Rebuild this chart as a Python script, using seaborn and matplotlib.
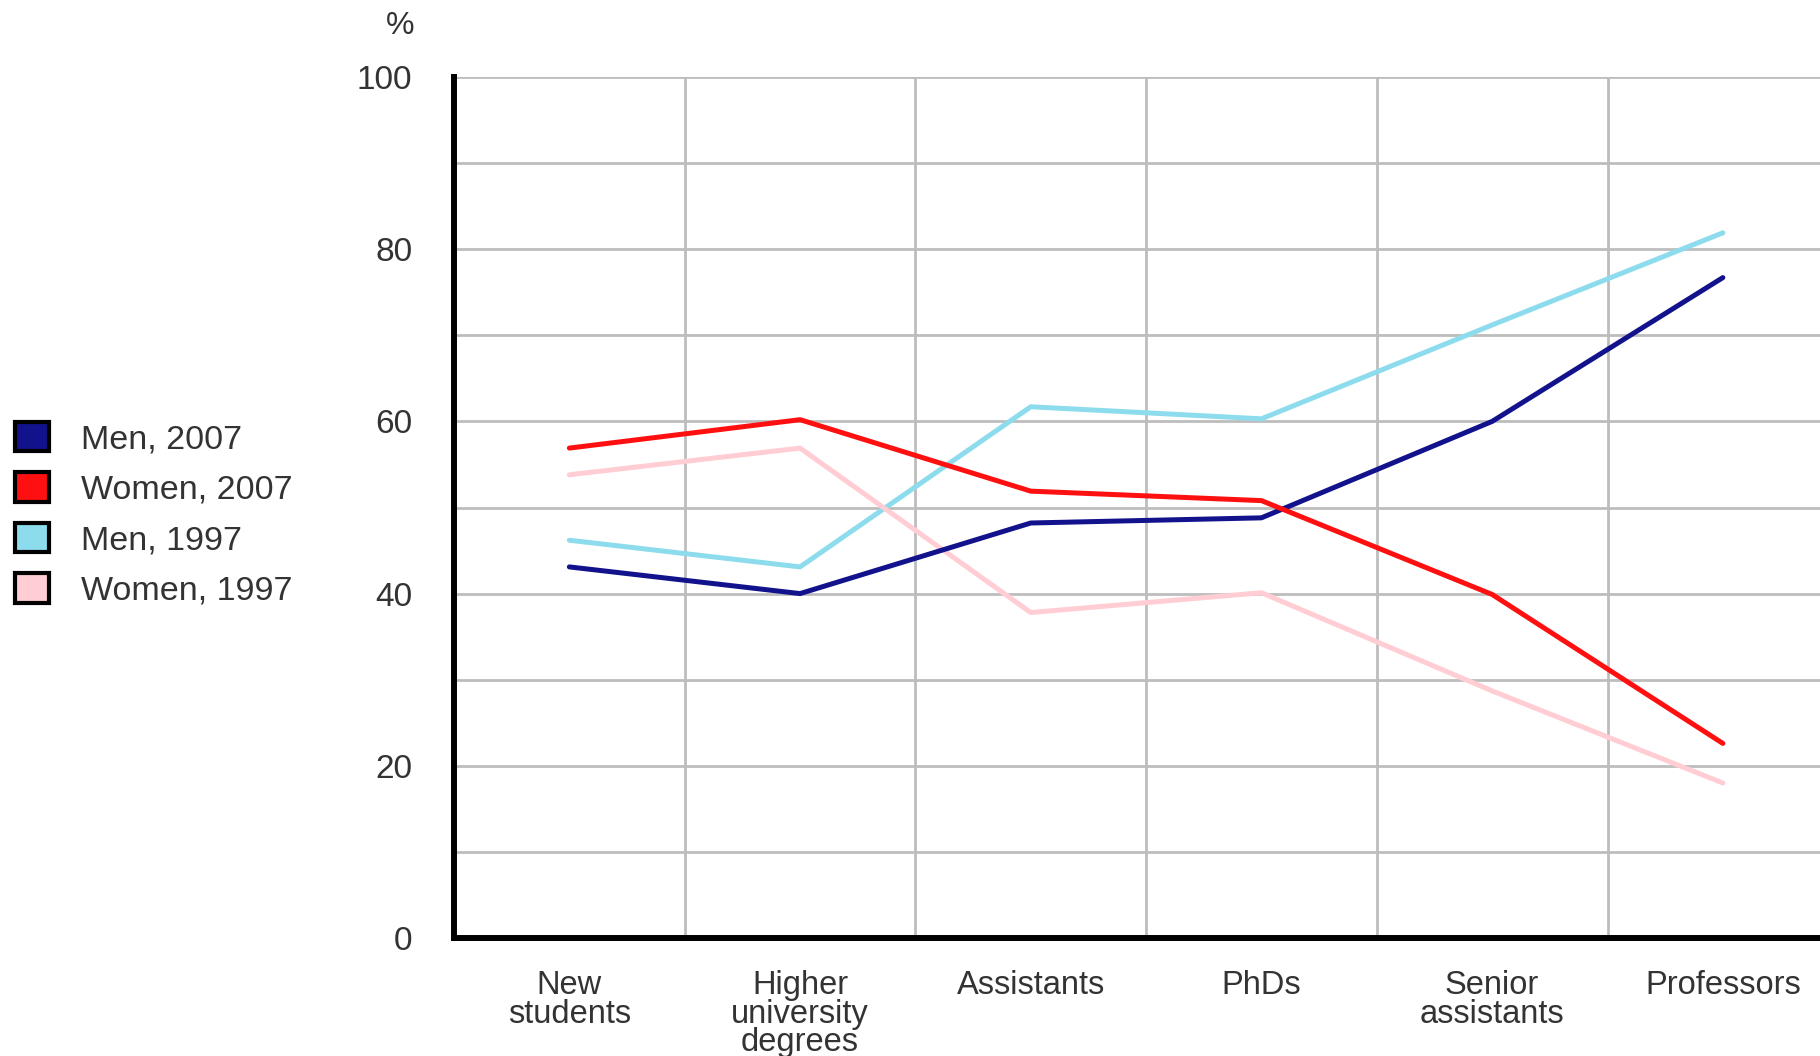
import numpy as np
import pandas as pd
import matplotlib
matplotlib.use('Agg')
import matplotlib.pyplot as plt
from matplotlib.patches import Patch
import seaborn as sns

# categories on the x axis
categories = ['New\nstudents', 'Higher\nuniversity\ndegrees', 'Assistants',
              'PhDs', 'Senior\nassistants', 'Professors']

# share in %
men_2007 = [43.1, 40.0, 48.2, 48.8, 60.0, 76.7]
women_2007 = [56.9, 60.2, 51.9, 50.8, 39.9, 22.6]
men_1997 = [46.2, 43.1, 61.7, 60.3, 71.2, 81.9]
women_1997 = [53.8, 56.9, 37.8, 40.1, 28.7, 18.0]

series_names = ['Men, 2007', 'Women, 2007', 'Men, 1997', 'Women, 1997']
colors = ['#12128c', '#ff1010', '#8ddcee', '#ffcdd3']

df = pd.DataFrame({'Category': categories,
                   'Men, 2007': men_2007,
                   'Women, 2007': women_2007,
                   'Men, 1997': men_1997,
                   'Women, 1997': women_1997})
long_df = df.melt(id_vars='Category', var_name='Series', value_name='Percent')
long_df['pos'] = long_df['Category'].map({c: i for i, c in enumerate(categories)})

sns.set_style('white')
plt.rcParams['font.family'] = ['Liberation Sans', 'DejaVu Sans']

fig = plt.figure(figsize=(18.2, 10.56), dpi=100)
ax = fig.add_axes([454/1820, 118/1056, 1 - 454/1820 + 0.01, 861/1056])

# light lines first so the 2007 lines sit on top
for name in ['Men, 1997', 'Women, 1997', 'Men, 2007', 'Women, 2007']:
    sub = long_df[long_df['Series'] == name]
    sns.lineplot(data=sub, x='pos', y='Percent', ax=ax, sort=False,
                 color=colors[series_names.index(name)], linewidth=3.6,
                 legend=False, zorder=3)

ax.set_xlim(-0.5, 5.45)
ax.set_ylim(0, 100)
ax.set_xticks(range(len(categories)))
ax.set_xticklabels(categories, fontsize=23.5, color='#333333', linespacing=0.9,
                   va='top')
ax.set_xticks(np.arange(0.5, 6, 1), minor=True)
ax.set_yticks(np.arange(0, 101, 20))
ax.set_yticklabels([str(v) for v in range(0, 101, 20)], fontsize=24, color='#333333')
ax.set_yticks(np.arange(10, 100, 20), minor=True)
ax.tick_params(axis='x', which='both', length=0, pad=23)
ax.tick_params(axis='y', which='both', length=0, pad=30)

ax.grid(False)
ax.grid(True, axis='x', which='minor', color='#bdbdbd', linewidth=2.0, zorder=0)
ax.grid(True, axis='y', which='both', color='#bdbdbd', linewidth=2.0, zorder=0)
ax.set_axisbelow(True)

ax.set_xlabel('')
ax.set_ylabel('')
for s in ['top', 'right']:
    ax.spines[s].set_visible(False)
for s in ['left', 'bottom']:
    ax.spines[s].set_color('black')
    ax.spines[s].set_linewidth(4.3)
    ax.spines[s].set_zorder(5)

fig.text(400/1820, 1 - 26/1056, '%', ha='center', va='center',
         fontsize=23, color='#333333')

handles = [Patch(facecolor=c, edgecolor='black', linewidth=3.0) for c in colors]
fig.legend(handles, series_names, loc='upper left',
           bbox_to_anchor=(15/1820, 1 - 422/1056), frameon=False,
           fontsize=24.5, handlelength=1.0, handleheight=0.95,
           handletextpad=0.95, labelspacing=0.5, borderpad=0,
           borderaxespad=0, labelcolor='#333333')

fig.savefig('out.png', dpi=100)
